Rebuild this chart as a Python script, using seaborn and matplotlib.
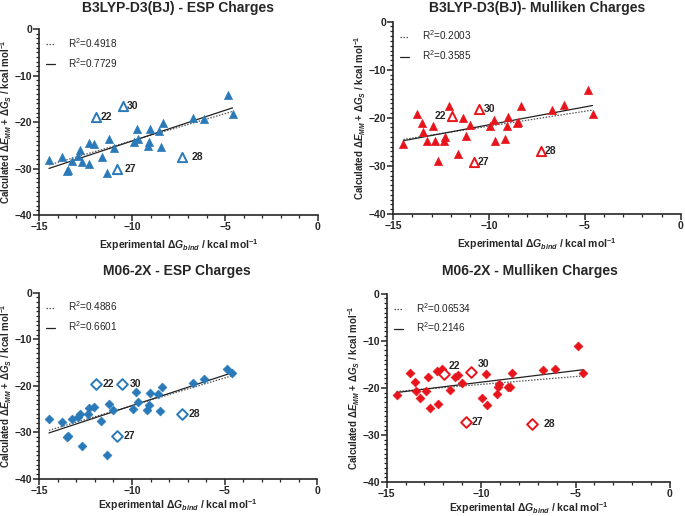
import numpy as np
import pandas as pd
import matplotlib
matplotlib.use("Agg")
import matplotlib.pyplot as plt
from matplotlib.lines import Line2D
from matplotlib.ticker import MultipleLocator
import seaborn as sns

# experimental binding energies (same for every panel), compound ids for the outliers
exp_dg = [-14.48, -13.76, -13.52, -13.45, -13.25, -12.93, -12.80, -12.69, -12.35, -12.30,
          -12.07, -11.95, -11.65, -11.37, -11.23, -11.00, -10.80, -10.52, -9.93, -9.76,
          -9.67, -9.17, -9.08, -9.03, -8.57, -8.47, -8.36, -7.30, -6.72, -6.11,
          -4.86, -4.60]
compound = ["", "", "", "", "", "", "", "", "", "", "", "22", "", "", "", "", "27", "30",
            "", "", "", "", "", "", "", "", "", "28", "", "", "", ""]

# calculated values for each method / charge scheme
b3lyp_esp = [-28.1, -27.5, -30.6, -30.3, -28.3, -27.3, -26.0, -28.5, -29.0, -24.6,
             -24.8, -19.0, -27.5, -30.9, -23.7, -25.5, -30.2, -16.5, -24.2, -21.6,
             -23.6, -25.2, -24.2, -21.4, -22.0, -25.3, -20.3, -27.5, -19.2, -19.4,
             -14.2, -18.3]
b3lyp_mul = [-25.4, -19.1, -21.1, -23.0, -24.9, -21.6, -24.8, -29.0, -24.9, -24.0,
             -17.6, -19.6, -27.6, -20.1, -23.8, -21.4, -29.1, -18.1, -21.8, -20.4,
             -24.9, -24.3, -21.8, -19.9, -21.1, -20.9, -17.6, -26.9, -18.4, -17.4,
             -14.2, -19.1]
m062x_esp = [-27.1, -27.9, -31.0, -30.8, -27.1, -26.8, -26.1, -33.0, -26.1, -24.8,
             -24.5, -19.6, -27.5, -34.8, -24.0, -25.3, -30.8, -19.6, -25.1, -21.4,
             -23.6, -25.2, -24.2, -21.6, -21.8, -25.5, -20.3, -26.0, -19.5, -18.6,
             -16.5, -17.3]
m062x_mul = [-21.5, -16.8, -18.8, -20.7, -22.2, -20.6, -17.6, -24.2, -16.4, -23.5,
             -16.1, -17.1, -20.5, -17.6, -17.3, -18.9, -27.2, -16.6, -22.2, -17.1,
             -23.6, -21.2, -19.8, -19.2, -19.8, -19.9, -16.8, -27.6, -16.3, -16.1,
             -11.2, -16.9]

titles = ["B3LYP-D3(BJ) - ESP Charges", "B3LYP-D3(BJ)- Mulliken Charges",
          "M06-2X - ESP Charges", "M06-2X - Mulliken Charges"]
r2_all = ["0.4918", "0.2003", "0.4886", "0.06534"]
r2_fit = ["0.7729", "0.3585", "0.6601", "0.2146"]

sns.set_style("ticks")
plt.rcParams["font.family"] = ["Liberation Sans", "DejaVu Sans"]
plt.rcParams["mathtext.fontset"] = "custom"
plt.rcParams["mathtext.rm"] = "Liberation Sans:bold"
plt.rcParams["mathtext.it"] = "Liberation Sans:italic:bold"
plt.rcParams["mathtext.bf"] = "Liberation Sans:bold"

blue = "#2a7ab9"
red = "#e8141c"

# axes rectangle, title centre (pixels from top-left) per panel
panels = [
    (b3lyp_esp, blue, "^", [0.0574, 0.5833, 0.4068, 0.3605], (178, 8)),
    (b3lyp_mul, red, "^", [0.5742, 0.5853, 0.4195, 0.3727], (537, 8)),
    (m062x_esp, blue, "D", [0.0574, 0.0723, 0.4058, 0.3605], (177, 271)),
    (m062x_mul, red, "D", [0.5645, 0.0659, 0.4136, 0.3649], (530, 271)),
]

# label offsets (points) for the outlier numbers in each panel
label_off = [
    {"22": (3, 0), "30": (3, 0), "27": (5, 0), "28": (7, 0)},
    {"22": (-12, 0), "30": (3, 0), "27": (3, 0), "28": (3, 0)},
    {"22": (5, 0), "30": (5, 0), "27": (5, 0), "28": (5, 0)},
    {"22": (3, 6), "30": (5, 6), "27": (4, 0), "28": (8, 0)},
]

W, H = 685, 516
fig = plt.figure(figsize=(W / 100, H / 100), dpi=100)

for i, (calc, col, mk, pos, tpos) in enumerate(panels):
    ax = fig.add_axes(pos)
    df = pd.DataFrame({"exp": exp_dg, "calc": calc, "id": compound})
    df["outlier"] = df["id"] != ""
    inl = df[~df["outlier"]]
    out = df[df["outlier"]]

    # regression lines: dotted = all compounds, solid = without the outliers
    sns.regplot(data=df, x="exp", y="calc", scatter=False, ci=None, truncate=True, ax=ax,
                line_kws=dict(color="#555555", lw=0.9, ls=(0, (1.2, 1.2))))
    sns.regplot(data=inl, x="exp", y="calc", scatter=False, ci=None, truncate=True, ax=ax,
                line_kws=dict(color="#222222", lw=0.9))

    size = 34 if mk == "^" else 20
    sns.scatterplot(data=inl, x="exp", y="calc", marker=mk, s=size, color=col,
                    edgecolor=col, linewidth=0.5, ax=ax, zorder=3)
    sns.scatterplot(data=out, x="exp", y="calc", marker=mk, s=size + 10, facecolor="white",
                    edgecolor=col, linewidth=1.4, ax=ax, zorder=4)
    for _, r in out.iterrows():
        dx, dy = label_off[i][r["id"]]
        ax.annotate(r["id"], (r["exp"], r["calc"]), xytext=(dx, dy), textcoords="offset points",
                    ha="left", va="center", fontsize=7.5, fontweight="bold")

    ax.set_xlim(-15, 0)
    ax.set_ylim(-40, 0)
    ax.xaxis.set_major_locator(MultipleLocator(5))
    ax.xaxis.set_minor_locator(MultipleLocator(1))
    ax.yaxis.set_major_locator(MultipleLocator(10))
    ax.yaxis.set_minor_locator(MultipleLocator(1))
    ax.tick_params(which="major", length=4, width=1.1, labelsize=7.5, pad=1)
    ax.tick_params(which="minor", length=2, width=0.9)
    for lab in ax.get_xticklabels() + ax.get_yticklabels():
        lab.set_fontweight("bold")
    for s in ["left", "bottom"]:
        ax.spines[s].set_linewidth(1.2)
    sns.despine(ax=ax)

    ax.set_xlabel(r"Experimental $\Delta G_{bind}$ / kcal mol$^{-1}$", fontsize=7.5,
                  fontweight="bold", labelpad=4 if i < 2 else 1)
    ax.set_ylabel(r"Calculated $\Delta E_{MM}$ + $\Delta G_S$ / kcal mol$^{-1}$", fontsize=7,
                  fontweight="bold")
    ax.yaxis.set_label_coords(-25 / (pos[2] * W), 0.5)
    fig.text(tpos[0] / W, 1 - tpos[1] / H, titles[i], ha="center", va="center",
             fontsize=10, fontweight="bold")

    handles = [Line2D([], [], color="#555555", lw=0.9, ls=(0, (1.2, 1.2))),
               Line2D([], [], color="#222222", lw=0.9)]
    ax.legend(handles, [r"R$^{\mathregular{2}}$=" + r2_all[i], r"R$^{\mathregular{2}}$=" + r2_fit[i]],
              loc="upper left", frameon=False, fontsize=7.2, handlelength=0.9,
              handletextpad=1.3, borderaxespad=0.3, labelspacing=0.6)

fig.savefig("out.png", dpi=100)
